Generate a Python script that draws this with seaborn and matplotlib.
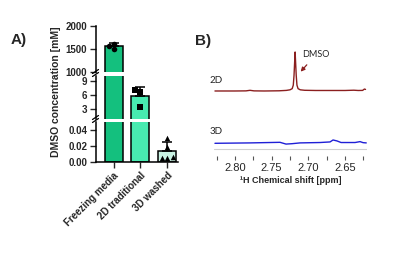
import numpy as np
import pandas as pd
import matplotlib
matplotlib.use("Agg")
import matplotlib.pyplot as plt
import seaborn as sns
from matplotlib.ticker import MultipleLocator, FixedLocator, FormatStrFormatter
from matplotlib.lines import Line2D

# ---------------- data ----------------
categories = ["Freezing media", "2D traditional", "3D washed"]
freezing_media = [1615, 1565, 1495]
traditional_2d = [7.1, 6.6, 3.4]
washed_3d = [0.031, 0.0195, 0.007, 0.006, 0.005]

top_ticks = [1000, 1500, 2000]
mid_ticks = [3, 6, 9]
low_ticks = [0.00, 0.02, 0.04]

ppm_2d = [2.8273, 2.80, 2.785, 2.7795, 2.774, 2.76, 2.74, 2.730, 2.725, 2.722,
          2.7205, 2.7195, 2.7185, 2.718, 2.7175, 2.7165, 2.7155, 2.714, 2.711,
          2.705, 2.69, 2.67, 2.65, 2.638, 2.632, 2.626, 2.6235, 2.622]
int_2d = [0, 0, 0.3, 1.7, 0.3, 0, 0.5, 1.5, 3, 6,
          15, 40, 80, 100, 80, 40, 15, 6, 3,
          1.8, 1.3, 1.3, 1.3, 2, 1.3, 1.5, 5, 4]

ppm_3d = [2.8273, 2.7795, 2.7386, 2.7304, 2.7222, 2.7113, 2.684, 2.6704, 2.6663,
          2.6608, 2.6554, 2.6363, 2.6295, 2.6254, 2.621]
int_3d = [0, 1, 2.5, -2, -1, 1, 2, 3.5, 8.5, 6, 2, 2, 4.3, 1.7, 1]

nmr_ticks = [2.80, 2.75, 2.70, 2.65]

# ---------------- style ----------------
bar_colors = ["#14c07e", "#48eab0", "#c9f3e3"]
markers = ["o", "s", "^"]
red = "#8b1f1f"
blue = "#1f1fd6"

sns.set_style("white")
plt.rcParams["font.family"] = ["Liberation Sans", "DejaVu Sans"]

W, H = 400, 261
fig = plt.figure(figsize=(W / 100, H / 100), dpi=100)


def px_axes(x0, x1, y0, y1):
    return fig.add_axes([x0 / W, 1 - y1 / H, (x1 - x0) / W, (y1 - y0) / H])


df = pd.DataFrame({
    "group": [categories[0]] * len(freezing_media) + [categories[1]] * len(traditional_2d)
             + [categories[2]] * len(washed_3d),
    "value": freezing_media + traditional_2d + washed_3d,
})
means = df.groupby("group", sort=False)["value"].mean().reindex(categories)
sds = df.groupby("group", sort=False)["value"].std().reindex(categories)

ax_top = px_axes(95.7, 178, 26, 71.7)
ax_mid = px_axes(95.7, 178, 75.9, 118.8)
ax_low = px_axes(95.7, 178, 122.3, 162.3)

specs = [
    (ax_top, (1000, 2000), top_ticks, "%d", 0),
    (ax_mid, (1, 10), mid_ticks, "%d", 1),
    (ax_low, (0, 0.05), low_ticks, "%.2f", 2),
]

for ax, lims, ticks, fmt, gi in specs:
    sns.barplot(data=df, x="group", y="value", hue="group", order=categories,
                hue_order=categories, palette=bar_colors, saturation=1, errorbar=None,
                width=0.667, edgecolor="black", linewidth=1.1, legend=False, ax=ax)
    ax.errorbar(np.arange(3), means.values, yerr=[np.zeros(3), sds.values], fmt="none",
                ecolor="black", elinewidth=1.1, capsize=3.5, capthick=1.1, zorder=3)
    sub = df[df["group"] == categories[gi]]
    sns.swarmplot(data=sub, x="group", y="value", order=categories, marker=markers[gi],
                  color="black", size=4, ax=ax, zorder=4)
    ax.set_ylim(*lims)
    ax.set_xlim(-0.66, 2.39)
    ax.set_yticks(ticks)
    ax.yaxis.set_major_formatter(FormatStrFormatter(fmt))
    ax.tick_params(axis="y", length=4, width=1, labelsize=7, pad=2, left=True)
    for lbl in ax.get_yticklabels():
        lbl.set_fontweight("bold")
    ax.set_xlabel("")
    ax.set_ylabel("")
    for s in ["top", "right"]:
        ax.spines[s].set_visible(False)
    ax.spines["left"].set_linewidth(1.1)
    ax.spines["left"].set_color("black")
    ax.set_facecolor("none")
    if ax is not ax_low:
        ax.spines["bottom"].set_visible(False)
        ax.tick_params(axis="x", bottom=False, labelbottom=False)

ax_low.spines["bottom"].set_linewidth(1.1)
ax_low.spines["bottom"].set_color("black")
ax_low.set_xticks(range(3))
ax_low.set_xticklabels(categories, rotation=45, ha="right", rotation_mode="anchor",
                       fontweight="bold", fontsize=7)
ax_low.tick_params(axis="x", length=4, width=1, pad=2, bottom=True)


def fig_line(x0, y0, x1, y1, **kw):
    fig.add_artist(Line2D([x0 / W, x1 / W], [1 - y0 / H, 1 - y1 / H],
                          transform=fig.transFigure, **kw))


for yb in (71.5, 117.5):
    fig_line(92.5, yb + 2, 98.5, yb - 2, color="black", lw=0.9)
    fig_line(92.5, yb + 5, 98.5, yb + 1, color="black", lw=0.9)

fig.text(56 / W, 1 - 92 / H, "DMSO concentration [mM]", rotation=90, ha="center",
         va="center", fontsize=7.5, fontweight="bold")
fig.text(19 / W, 1 - 40 / H, "A)", fontsize=11, fontweight="bold", ha="center", va="center")
fig.text(203 / W, 1 - 41 / H, "B)", fontsize=11, fontweight="bold", ha="center", va="center")

# ---------------- NMR panel ----------------
xl = (2.8286, 2.620)
ax2 = px_axes(214, 367, 45, 100)
sns.lineplot(x=ppm_2d, y=int_2d, ax=ax2, color=red, linewidth=1.0)
ax2.set_xlim(*xl)
ax2.set_ylim(-23.1, 117.9)
ax2.axis("off")
ax2.annotate("DMSO", xy=(2.7105, 49.5), xytext=(2.690, 92.3), ha="center", va="center",
             fontsize=6.5, color="#222222", family=["Lato", "DejaVu Sans"],
             arrowprops=dict(arrowstyle="-|>", color=red, lw=0.9, shrinkA=2, shrinkB=0,
                             mutation_scale=6))

ax3 = px_axes(214, 367, 135, 156)
sns.lineplot(x=ppm_3d, y=int_3d, ax=ax3, color=blue, linewidth=1.0)
ax3.axhline(-14.6, color="#d0d0d0", lw=0.8)
ax3.set_xlim(*xl)
ax3.set_ylim(-32.6, 21.3)
for s in ax3.spines.values():
    s.set_visible(False)
ax3.set_facecolor("none")
ax3.set_yticks([])
ax3.xaxis.set_major_locator(FixedLocator(nmr_ticks))
ax3.xaxis.set_minor_locator(MultipleLocator(0.025))
ax3.xaxis.set_major_formatter(FormatStrFormatter("%.2f"))
ax3.tick_params(axis="x", which="both", length=3, width=0.8, color="#555555",
                labelsize=8, pad=2, bottom=True)
ax3.set_xlabel("\u00b9H Chemical shift [ppm]", fontsize=6.5, fontweight="bold", labelpad=2)
ax3.set_ylabel("")

fig.text(216 / W, 1 - 80.5 / H, "2D", fontsize=7, ha="center", va="center",
         family=["Lato", "DejaVu Sans"])
fig.text(216 / W, 1 - 131.5 / H, "3D", fontsize=7, ha="center", va="center",
         family=["Lato", "DejaVu Sans"])

fig.savefig("out.png", dpi=100)
